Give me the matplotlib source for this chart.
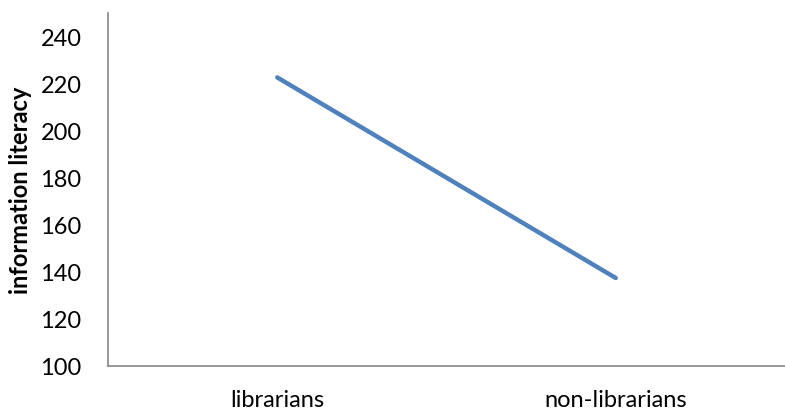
import matplotlib
matplotlib.use("Agg")
import matplotlib.pyplot as plt

plt.rcParams['font.family'] = ['Lato', 'DejaVu Sans']

categories = ["librarians", "non-librarians"]
values = [222.6, 137.3]
yticks = [100, 120, 140, 160, 180, 200, 220, 240]

fig = plt.figure(figsize=(7.85, 4.10), dpi=100)
ax = fig.add_axes([108 / 785, 1 - 366.7 / 410, 1 - 108 / 785, (366.7 - 14) / 410])

x = range(len(categories))
ax.plot(x, values, color="#4F81BD", linewidth=3.2, solid_capstyle="round")

ax.set_xlim(-0.5, len(categories) - 0.5)
ax.set_ylim(100, 250)
ax.set_yticks(yticks)
ax.set_xticks(list(x))
ax.set_xticklabels(categories)

for side in ("top", "right"):
    ax.spines[side].set_visible(False)
for side in ("left", "bottom"):
    ax.spines[side].set_color("#868686")
    ax.spines[side].set_linewidth(1.2)

ax.tick_params(axis="both", length=0, labelsize=17, colors="black")
ax.tick_params(axis="y", pad=19)
ax.tick_params(axis="x", pad=17)

ax.set_ylabel("information literacy", fontsize=17, fontweight="bold", labelpad=6)

fig.savefig("out.png", dpi=100)
